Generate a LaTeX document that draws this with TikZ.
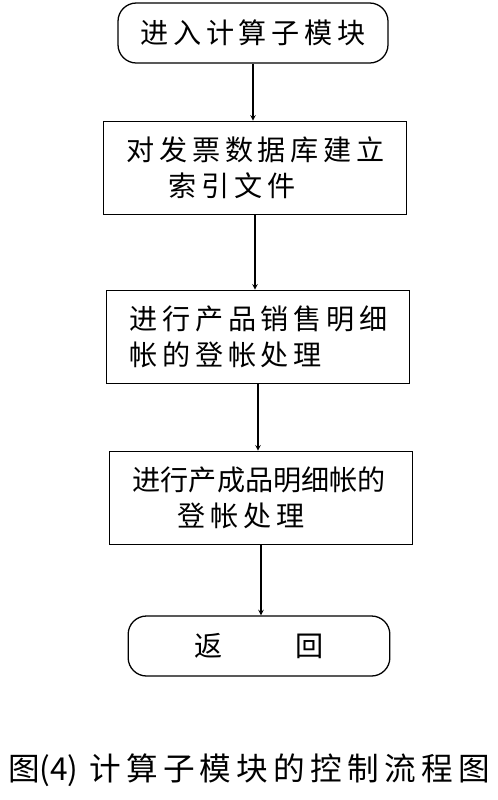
\documentclass[tikz,border=0pt]{standalone}
\usepackage{fontspec}
\setmainfont{Noto Sans CJK SC}
\usepackage{tikz}
\usetikzlibrary{positioning}

\begin{document}
\begin{tikzpicture}[x=0.03cm,y=-0.03cm,
  term/.style={draw,line width=1.1pt,rounded corners=0.55cm,minimum width=#1,minimum height=1.8cm,
    font=\fontsize{24}{30}\selectfont},
  procbox/.style={draw,line width=1.1pt,minimum width=9.1cm,minimum height=2.8cm,inner xsep=0.7cm,
    align=left,text width=7.7cm,font=\fontsize{24}{31}\selectfont},
  flow/.style={->,>=stealth,line width=1.1pt}]
  \useasboundingbox (0,0) rectangle (498,800);
  % terminals and steps
  \node[term=8.1cm] (start) at (253,33) {进\,入\,计\,算\,子\,模\,块};
  \node[procbox] (idx) at (255,168) {对\,发\,票\,数\,据\,库\,建\,立\\\hspace*{1.5em}索\,引\,文\,件};
  \node[procbox] (sale) at (258,337) {进\,行\,产\,品\,销\,售\,明\,细\\帐\,的\,登\,帐\,处\,理};
  \node[procbox] (prod) at (261,498) {进行产成品明细帐的\\\hspace*{1.6em}登\,帐\,处\,理};
  \node[term=7.85cm] (ret) at (259,646) {返\hspace{2.6em}回};
  % connectors
  \draw[flow] (start.south) -- (start.south |- idx.north);
  \draw[flow] (idx.south) -- (idx.south |- sale.north);
  \draw[flow] (sale.south) -- (sale.south |- prod.north);
  \draw[flow] (prod.south) -- (prod.south |- ret.north);
  % caption
  \node[font=\fontsize{27}{30}\selectfont] (cap) at (249,770) {图(4)\,\,计\,算\,子\,模\,块\,的\,控\,制\,流\,程\,图};
\end{tikzpicture}
\end{document}
